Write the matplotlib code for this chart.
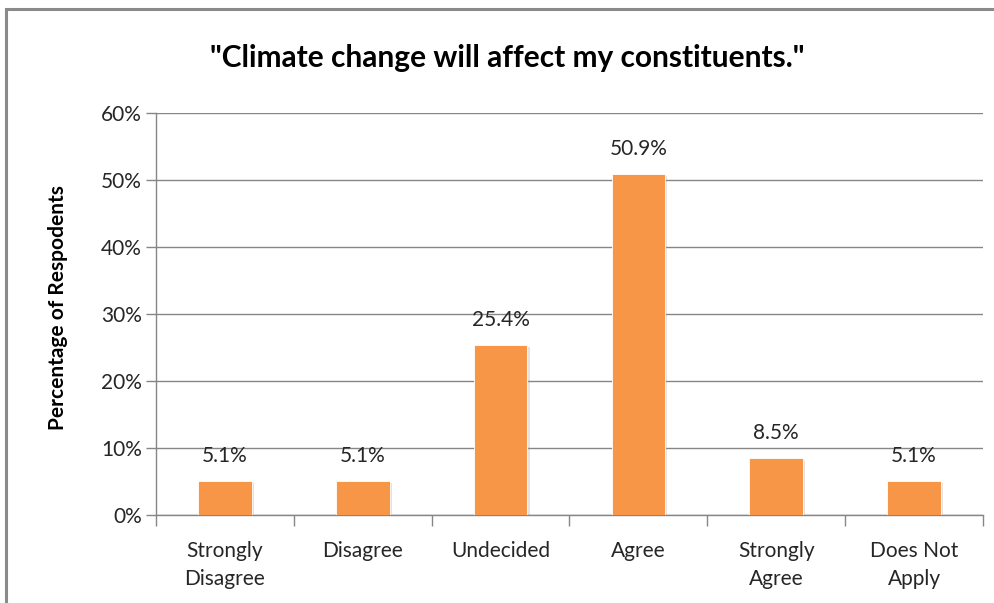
import matplotlib
matplotlib.use("Agg")
import matplotlib.pyplot as plt
from matplotlib.patches import Rectangle
from matplotlib.ticker import FixedLocator, NullFormatter
import matplotlib.patheffects as pe

categories = ["Strongly\nDisagree", "Disagree", "Undecided", "Agree", "Strongly\nAgree", "Does Not\nApply"]
values = [5.1, 5.1, 25.4, 50.9, 8.5, 5.1]
y_ticks = [0, 10, 20, 30, 40, 50, 60]
title = "\"Climate change will affect my constituents.\""
y_label = "Percentage of Respodents"

bar_color = "#F79646"
grid_color = "#868686"
text_color = "#262626"
font = ["Lato", "DejaVu Sans"]

fig = plt.figure(figsize=(9.95, 6.03), dpi=100)
fig.patch.set_facecolor("white")

# outer chart frame
fig.patches.append(Rectangle((6 / 995, -0.05), 1.2, 1 - 9 / 603 + 0.05,
                             transform=fig.transFigure, fill=False,
                             edgecolor="#8a8a8a", linewidth=2.2))

ax = fig.add_axes([156 / 995, 1 - 515 / 603, (983 - 156) / 995, (515 - 113) / 603])
x = list(range(len(categories)))
bars = ax.bar(x, values, width=0.39, color=bar_color, zorder=3,
              edgecolor="white", linewidth=0.6)
for b in bars:
    b.set_path_effects([pe.SimplePatchShadow(offset=(1.5, -1.5), shadow_rgbFace="#a0a0a0", alpha=0.3),
                        pe.Normal()])

for xi, v in zip(x, values):
    ax.annotate(f"{v:.1f}%", (xi, v), xytext=(0, 18), textcoords="offset points",
                ha="center", va="center", fontsize=15, color=text_color, family=font)

ax.set_xlim(-0.5, len(categories) - 0.5)
ax.set_ylim(0, 60)
ax.set_yticks(y_ticks)
ax.set_yticklabels([f"{t}%" for t in y_ticks], fontsize=15, color=text_color, family=font)
ax.yaxis.grid(True, color=grid_color, linewidth=1.0, zorder=0)

ax.xaxis.set_major_locator(FixedLocator([i - 0.5 for i in range(len(categories) + 1)]))
ax.xaxis.set_major_formatter(NullFormatter())
ax.xaxis.set_minor_locator(FixedLocator(x))
ax.set_xticklabels(categories, minor=True, fontsize=15, color=text_color, family=font,
                   linespacing=1.45)
ax.tick_params(axis="x", which="major", length=8, color=grid_color, width=1.0)
ax.tick_params(axis="x", which="minor", length=0, pad=19)
ax.tick_params(axis="y", length=7, color=grid_color, width=1.0, pad=3)

for side in ["top", "right"]:
    ax.spines[side].set_visible(False)
for side in ["left", "bottom"]:
    ax.spines[side].set_color(grid_color)
    ax.spines[side].set_linewidth(1.0)

ax.set_ylabel(y_label, fontsize=15, fontweight="bold", color="black", family=font)
ax.yaxis.set_label_coords(-0.106, 0.517)
fig.text(507 / 995, 1 - 58 / 603, title, ha="center", va="center",
         fontsize=21.5, fontweight="bold", color="black", family=font)

fig.savefig("out.png", dpi=100, facecolor="white")
